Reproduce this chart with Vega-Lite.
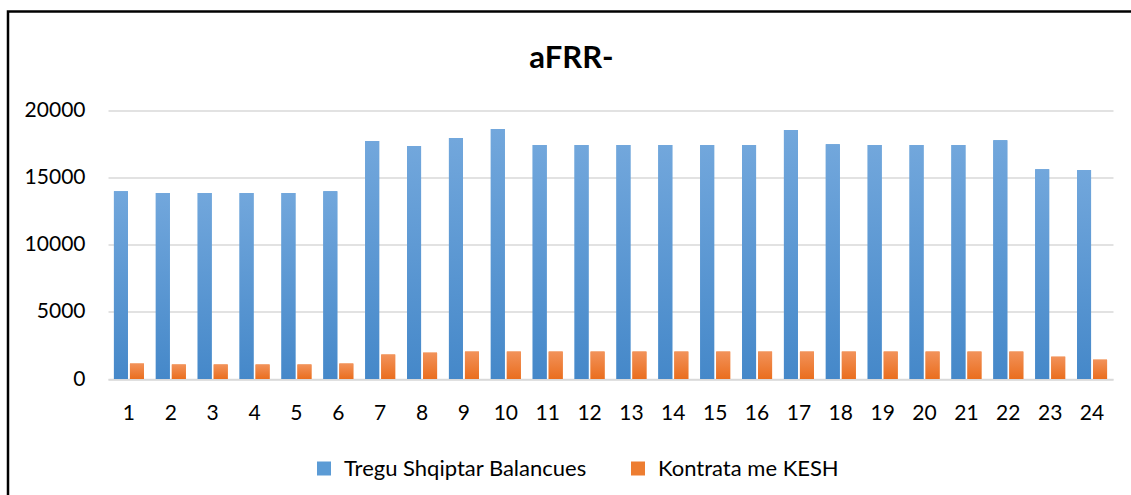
{
  "$schema": "https://vega.github.io/schema/vega-lite/v6.json",
  "autosize": {"type": "none"},
  "width": 1127,
  "height": 490,
  "padding": {"left": 8, "top": 11.5, "right": -4, "bottom": -6.5},
  "background": "white",
  "config": {"view": {"stroke": "black", "strokeWidth": 2.5}, "font": "Lato"},
  "title": {"text": "aFRR-", "fontSize": 31, "fontWeight": "bold", "font": "Lato", "color": "black", "anchor": "middle", "frame": "group", "offset": -63, "baseline": "top"},
  "data": {"values": [
    {"hour": 1, "series": "Tregu Shqiptar Balancues", "value": 13960},
    {"hour": 2, "series": "Tregu Shqiptar Balancues", "value": 13820},
    {"hour": 3, "series": "Tregu Shqiptar Balancues", "value": 13820},
    {"hour": 4, "series": "Tregu Shqiptar Balancues", "value": 13820},
    {"hour": 5, "series": "Tregu Shqiptar Balancues", "value": 13820},
    {"hour": 6, "series": "Tregu Shqiptar Balancues", "value": 13960},
    {"hour": 7, "series": "Tregu Shqiptar Balancues", "value": 17690},
    {"hour": 8, "series": "Tregu Shqiptar Balancues", "value": 17320},
    {"hour": 9, "series": "Tregu Shqiptar Balancues", "value": 17910},
    {"hour": 10, "series": "Tregu Shqiptar Balancues", "value": 18580},
    {"hour": 11, "series": "Tregu Shqiptar Balancues", "value": 17390},
    {"hour": 12, "series": "Tregu Shqiptar Balancues", "value": 17390},
    {"hour": 13, "series": "Tregu Shqiptar Balancues", "value": 17390},
    {"hour": 14, "series": "Tregu Shqiptar Balancues", "value": 17390},
    {"hour": 15, "series": "Tregu Shqiptar Balancues", "value": 17390},
    {"hour": 16, "series": "Tregu Shqiptar Balancues", "value": 17390},
    {"hour": 17, "series": "Tregu Shqiptar Balancues", "value": 18510},
    {"hour": 18, "series": "Tregu Shqiptar Balancues", "value": 17460},
    {"hour": 19, "series": "Tregu Shqiptar Balancues", "value": 17390},
    {"hour": 20, "series": "Tregu Shqiptar Balancues", "value": 17390},
    {"hour": 21, "series": "Tregu Shqiptar Balancues", "value": 17390},
    {"hour": 22, "series": "Tregu Shqiptar Balancues", "value": 17760},
    {"hour": 23, "series": "Tregu Shqiptar Balancues", "value": 15600},
    {"hour": 24, "series": "Tregu Shqiptar Balancues", "value": 15530},
    {"hour": 1, "series": "Kontrata me KESH", "value": 1150},
    {"hour": 2, "series": "Kontrata me KESH", "value": 1080},
    {"hour": 3, "series": "Kontrata me KESH", "value": 1080},
    {"hour": 4, "series": "Kontrata me KESH", "value": 1080},
    {"hour": 5, "series": "Kontrata me KESH", "value": 1080},
    {"hour": 6, "series": "Kontrata me KESH", "value": 1150},
    {"hour": 7, "series": "Kontrata me KESH", "value": 1820},
    {"hour": 8, "series": "Kontrata me KESH", "value": 1960},
    {"hour": 9, "series": "Kontrata me KESH", "value": 2040},
    {"hour": 10, "series": "Kontrata me KESH", "value": 2040},
    {"hour": 11, "series": "Kontrata me KESH", "value": 2040},
    {"hour": 12, "series": "Kontrata me KESH", "value": 2040},
    {"hour": 13, "series": "Kontrata me KESH", "value": 2040},
    {"hour": 14, "series": "Kontrata me KESH", "value": 2040},
    {"hour": 15, "series": "Kontrata me KESH", "value": 2040},
    {"hour": 16, "series": "Kontrata me KESH", "value": 2040},
    {"hour": 17, "series": "Kontrata me KESH", "value": 2040},
    {"hour": 18, "series": "Kontrata me KESH", "value": 2040},
    {"hour": 19, "series": "Kontrata me KESH", "value": 2040},
    {"hour": 20, "series": "Kontrata me KESH", "value": 2040},
    {"hour": 21, "series": "Kontrata me KESH", "value": 2040},
    {"hour": 22, "series": "Kontrata me KESH", "value": 2040},
    {"hour": 23, "series": "Kontrata me KESH", "value": 1660},
    {"hour": 24, "series": "Kontrata me KESH", "value": 1440}
  ]},
  "encoding": {
    "x": {
      "field": "hour", "type": "ordinal",
      "scale": {"range": [100, 1105], "paddingInner": 0.283, "paddingOuter": 0.1417},
      "axis": {"orient": "bottom", "offset": -122.5, "domainColor": "#D9D9D9", "domainWidth": 1.5, "ticks": false, "tickSize": 0, "labelPadding": 23, "labelFontSize": 21, "labelFont": "Lato", "labelColor": "black", "labelAngle": 0, "title": null, "grid": false}
    },
    "xOffset": {
      "field": "series", "type": "nominal",
      "scale": {"domain": ["Tregu Shqiptar Balancues", "Kontrata me KESH"], "paddingInner": 0.125, "paddingOuter": 0}
    },
    "y": {
      "field": "value", "type": "quantitative",
      "scale": {"domain": [0, 20000], "range": [367.5, 98.5], "nice": false, "zero": true},
      "axis": {"orient": "left", "offset": -100, "domain": false, "ticks": false, "tickSize": 0, "grid": true, "gridColor": "#D9D9D9", "gridWidth": 1.3, "values": [0, 5000, 10000, 15000, 20000], "format": "d", "labelPadding": 23, "labelFontSize": 21, "labelFont": "Lato", "labelColor": "black", "title": null}
    }
  },
  "layer": [
    {
      "mark": {"type": "bar"},
      "encoding": {
        "color": {
          "field": "series", "type": "nominal",
          "scale": {"domain": ["Tregu Shqiptar Balancues", "Kontrata me KESH"], "range": ["#5B9BD5", "#ED7D31"]},
          "legend": {"orient": "none", "legendX": 305, "legendY": 446, "direction": "horizontal", "title": null, "symbolType": "square", "symbolSize": 196, "symbolStrokeWidth": 0, "symbolOpacity": 1, "labelFontSize": 22, "labelFont": "Lato", "labelColor": "black", "labelOffset": 9, "labelLimit": 0, "columnPadding": 40, "padding": 0}
        }
      }
    },
    {
      "mark": {"type": "bar"},
      "encoding": {
        "fill": {
          "condition": {"test": "datum.series === 'Tregu Shqiptar Balancues'", "value": {"gradient": "linear", "x1": 0, "y1": 0, "x2": 0, "y2": 1, "stops": [{"offset": 0, "color": "#72A7DC"}, {"offset": 1, "color": "#4588C9"}]}},
          "value": {"gradient": "linear", "x1": 0, "y1": 0, "x2": 0, "y2": 1, "stops": [{"offset": 0, "color": "#F2925A"}, {"offset": 1, "color": "#EA6E1E"}]}
        }
      }
    }
  ]
}
